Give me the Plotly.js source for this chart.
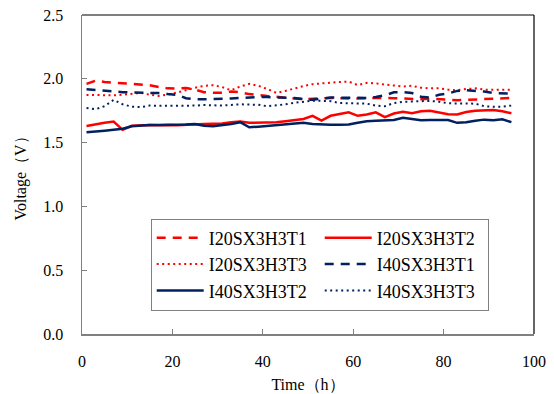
<!DOCTYPE html>
<html>
<head>
<meta charset="utf-8">
<script src="https://cdn.plot.ly/plotly-3.0.1.min.js"></script>
<style>html,body{margin:0;padding:0;background:#fff;}#chart{width:554px;height:394px;}</style>
</head>
<body>
<div id="chart"></div>
<script>
const hours = [1,3,5,7,9,11,13,15,17,19,21,23,25,27,29,31,33,35,37,39,41,43,45,47,49,51,53,55,57,59,61,63,65,67,69,71,73,75,77,79,81,83,85,87,89,91,93,95];

const seriesNames = ["I20SX3H3T1","I20SX3H3T2","I20SX3H3T3","I40SX3H3T1","I40SX3H3T2","I40SX3H3T3"];

const I20SX3H3T1 = [1.96,1.985,1.975,1.97,1.968,1.965,1.955,1.95,1.935,1.925,1.923,1.928,1.915,1.895,1.89,1.89,1.90,1.895,1.88,1.87,1.865,1.86,1.85,1.845,1.84,1.843,1.848,1.85,1.848,1.845,1.845,1.848,1.85,1.85,1.848,1.845,1.843,1.84,1.845,1.84,1.835,1.832,1.835,1.838,1.84,1.845,1.848,1.85];
const I20SX3H3T2 = [1.63,1.645,1.655,1.665,1.60,1.632,1.635,1.637,1.635,1.638,1.635,1.64,1.64,1.645,1.648,1.65,1.66,1.665,1.655,1.655,1.655,1.66,1.668,1.675,1.685,1.71,1.672,1.71,1.724,1.737,1.71,1.72,1.737,1.70,1.728,1.742,1.73,1.745,1.75,1.735,1.722,1.72,1.74,1.75,1.755,1.755,1.745,1.73];
const I20SX3H3T3 = [1.874,1.872,1.87,1.87,1.875,1.885,1.89,1.875,1.866,1.875,1.89,1.91,1.93,1.945,1.95,1.935,1.91,1.94,1.96,1.945,1.92,1.89,1.905,1.925,1.943,1.958,1.965,1.97,1.975,1.978,1.951,1.968,1.965,1.955,1.945,1.94,1.945,1.93,1.925,1.925,1.915,1.91,1.92,1.925,1.915,1.915,1.915,1.915];
const I40SX3H3T1 = [1.918,1.912,1.905,1.903,1.895,1.893,1.892,1.892,1.888,1.88,1.875,1.848,1.84,1.84,1.84,1.842,1.845,1.85,1.855,1.857,1.857,1.855,1.853,1.85,1.84,1.835,1.845,1.853,1.852,1.85,1.848,1.85,1.858,1.87,1.895,1.895,1.888,1.86,1.853,1.875,1.885,1.905,1.91,1.905,1.9,1.888,1.885,1.885];
const I40SX3H3T2 = [1.581,1.59,1.593,1.60,1.608,1.628,1.635,1.638,1.638,1.638,1.64,1.642,1.646,1.632,1.628,1.635,1.645,1.66,1.62,1.625,1.632,1.64,1.646,1.65,1.655,1.645,1.64,1.64,1.64,1.642,1.655,1.667,1.672,1.675,1.678,1.695,1.685,1.675,1.677,1.677,1.677,1.655,1.66,1.672,1.68,1.675,1.683,1.66];
const I40SX3H3T3 = [1.772,1.762,1.785,1.835,1.80,1.782,1.778,1.79,1.788,1.788,1.788,1.79,1.79,1.795,1.792,1.79,1.795,1.80,1.798,1.797,1.785,1.79,1.80,1.812,1.822,1.828,1.827,1.825,1.81,1.807,1.807,1.805,1.79,1.785,1.81,1.82,1.822,1.825,1.827,1.82,1.808,1.807,1.807,1.805,1.785,1.78,1.782,1.79];

const xTicks = [0,20,40,60,80,100];
const yTicks = [0,0.5,1.0,1.5,2.0,2.5];

const RED = "#FF0000", NAVY = "#002060";
const values = [I20SX3H3T1, I20SX3H3T2, I20SX3H3T3, I40SX3H3T1, I40SX3H3T2, I40SX3H3T3];
const styles = [
  {color: RED, dash: "9px,7px", width: 2.5},
  {color: RED, dash: "solid", width: 2.5},
  {color: RED, dash: "2px,3.5px", width: 2},
  {color: NAVY, dash: "9px,7px", width: 2.5},
  {color: NAVY, dash: "solid", width: 2.5},
  {color: NAVY, dash: "2px,3.5px", width: 2}
];

const traces = values.map((v, i) => ({
  x: hours, y: v, type: "scatter", mode: "lines", name: seriesNames[i],
  line: styles[i]
}));

const serif = "Liberation Serif";

const layout = {
  width: 554, height: 394,
  margin: {l: 82, r: 20, t: 15, b: 60},
  paper_bgcolor: "#fff", plot_bgcolor: "#fff",
  font: {family: serif, size: 16, color: "#000"},
  showlegend: true,
  legend: {
    orientation: "h", x: 0.152, y: 0.362, xanchor: "left", yanchor: "top",
    itemwidth: 47,
    entrywidth: 106, entrywidthmode: "pixels",
    bgcolor: "#fff", bordercolor: "#808080", borderwidth: 1,
    font: {family: serif, size: 18, color: "#000"}
  },
  xaxis: {
    range: [0, 100], tickvals: xTicks, ticktext: xTicks.map(String),
    showgrid: false, zeroline: false,
    showline: true, linecolor: "#808080", linewidth: 1.5,
    ticks: "inside", ticklen: 5, tickcolor: "#808080", tickwidth: 1,
    ticklabelstandoff: 12,
    tickfont: {family: serif, size: 16},
    title: {text: "Time（h）", font: {family: serif, size: 16}, standoff: 10}
  },
  yaxis: {
    range: [0, 2.5], tickvals: yTicks, ticktext: yTicks.map(v => v.toFixed(1)),
    showgrid: false, zeroline: false,
    showline: true, linecolor: "#808080", linewidth: 1.5,
    ticks: "inside", ticklen: 5, tickcolor: "#808080", tickwidth: 1,
    ticklabelstandoff: 14,
    tickfont: {family: serif, size: 16},
    title: {text: "Voltage（V）", font: {family: serif, size: 16}, standoff: 12}
  },
  shapes: [
    {type: "line", xref: "paper", yref: "paper", x0: 0, x1: 1, y0: 1, y1: 1, line: {color: "#000", width: 1.2}},
    {type: "line", xref: "paper", yref: "paper", x0: 1, x1: 1, y0: 0, y1: 1, line: {color: "#000", width: 1.2}}
  ]
};

Plotly.newPlot("chart", traces, layout, {staticPlot: true, displayModeBar: false});
</script>
</body>
</html>
